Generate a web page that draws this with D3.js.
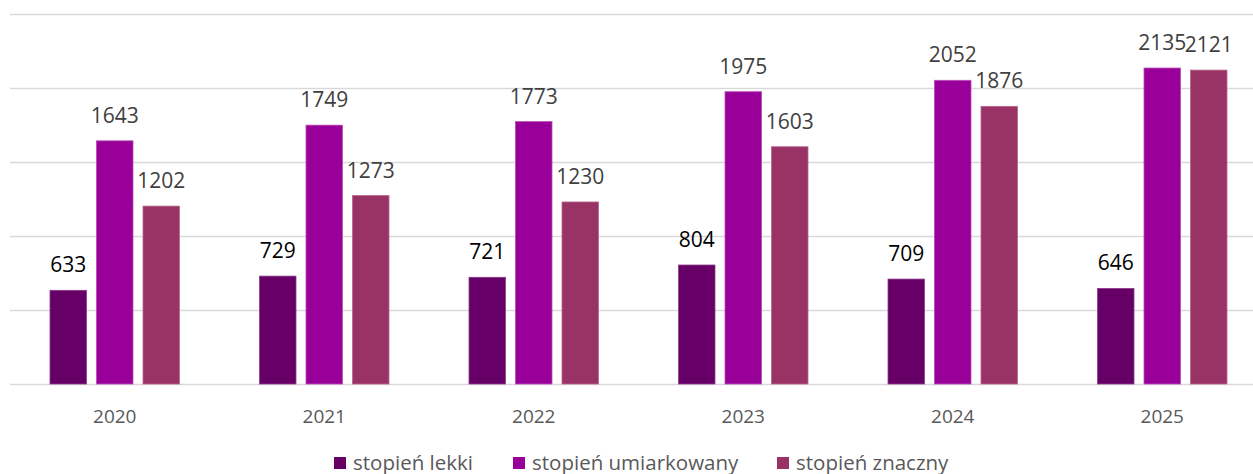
<!DOCTYPE html>
<html>
<head>
<meta charset="utf-8">
<script src="https://cdn.jsdelivr.net/npm/d3@7"></script>
<style>
  html, body { margin: 0; padding: 0; background: #fff; }
  svg { display: block; }
</style>
</head>
<body>
<svg id="chart" width="1253" height="474"></svg>
<script>
const categories = ["2020", "2021", "2022", "2023", "2024", "2025"];
const seriesNames = ["stopień lekki", "stopień umiarkowany", "stopień znaczny"];
const lekki = [633, 729, 721, 804, 709, 646];
const umiarkowany = [1643, 1749, 1773, 1975, 2052, 2135];
const znaczny = [1202, 1273, 1230, 1603, 1876, 2121];
const yTicks = [0, 500, 1000, 1500, 2000, 2500];

const seriesValues = [lekki, umiarkowany, znaczny];
const colors = ["#660066", "#990099", "#993366"];
const strokes = ["#8a3d8a", "#b84db8", "#b8668a"];
const labelColors = ["#000000", "#404040", "#404040"];
const FONT = "'Open Sans', sans-serif";

const svg = d3.select("#chart");
const plotLeft = 10, plotRight = 1267, plotTop = 14, plotBottom = 384;

const x = d3.scaleBand().domain(categories).range([plotLeft, plotRight]).paddingInner(0).paddingOuter(0);
const y = d3.scaleLinear().domain([0, 2500]).range([plotBottom, plotTop]);

// gridlines
svg.append("g").selectAll("line").data(yTicks).join("line")
  .attr("x1", plotLeft).attr("x2", 1253)
  .attr("y1", d => Math.round(y(d)) + 0.5).attr("y2", d => Math.round(y(d)) + 0.5)
  .attr("stroke", "#d9d9d9").attr("stroke-width", 1.3);

const groupWidth = 129.5;
const barW = 36.5, gap = 10;
const x1 = i => (barW + gap) * i;

const groups = svg.append("g").selectAll("g").data(categories).join("g")
  .attr("transform", d => `translate(${x(d) + (x.bandwidth() - groupWidth) / 2},0)`);

seriesValues.forEach((vals, si) => {
  groups.append("rect")
    .attr("x", x1(si))
    .attr("y", (d, i) => y(vals[i]))
    .attr("width", barW)
    .attr("height", (d, i) => y(0) - y(vals[i]))
    .attr("fill", colors[si])
    .attr("stroke", strokes[si])
    .attr("stroke-width", 0.8);
  groups.append("text")
    .attr("x", x1(si) + barW / 2)
    .attr("y", (d, i) => y(vals[i]) - 18)
    .attr("text-anchor", "middle")
    .attr("font-family", FONT)
    .attr("font-size", 21)
    .attr("fill", labelColors[si])
    .text((d, i) => vals[i]);
});

// x axis labels
const xAxis = d3.axisBottom(x).tickSize(0).tickPadding(0);
const gx = svg.append("g").attr("transform", `translate(0,${plotBottom})`).call(xAxis);
gx.select(".domain").remove();
gx.selectAll("text")
  .attr("y", 39).attr("dy", 0)
  .attr("font-family", FONT).attr("font-size", 19).attr("fill", "#595959");

// legend
const legendX = [334, 513, 777];
const legend = svg.append("g").selectAll("g").data(seriesNames).join("g")
  .attr("transform", (d, i) => `translate(${legendX[i]},457)`);
legend.append("rect").attr("width", 12).attr("height", 12).attr("fill", (d, i) => colors[i]);
legend.append("text").attr("x", 19).attr("y", 12.5)
  .attr("font-family", FONT).attr("font-size", 20.5).attr("fill", "#595959")
  .text(d => d);
</script>
</body>
</html>
